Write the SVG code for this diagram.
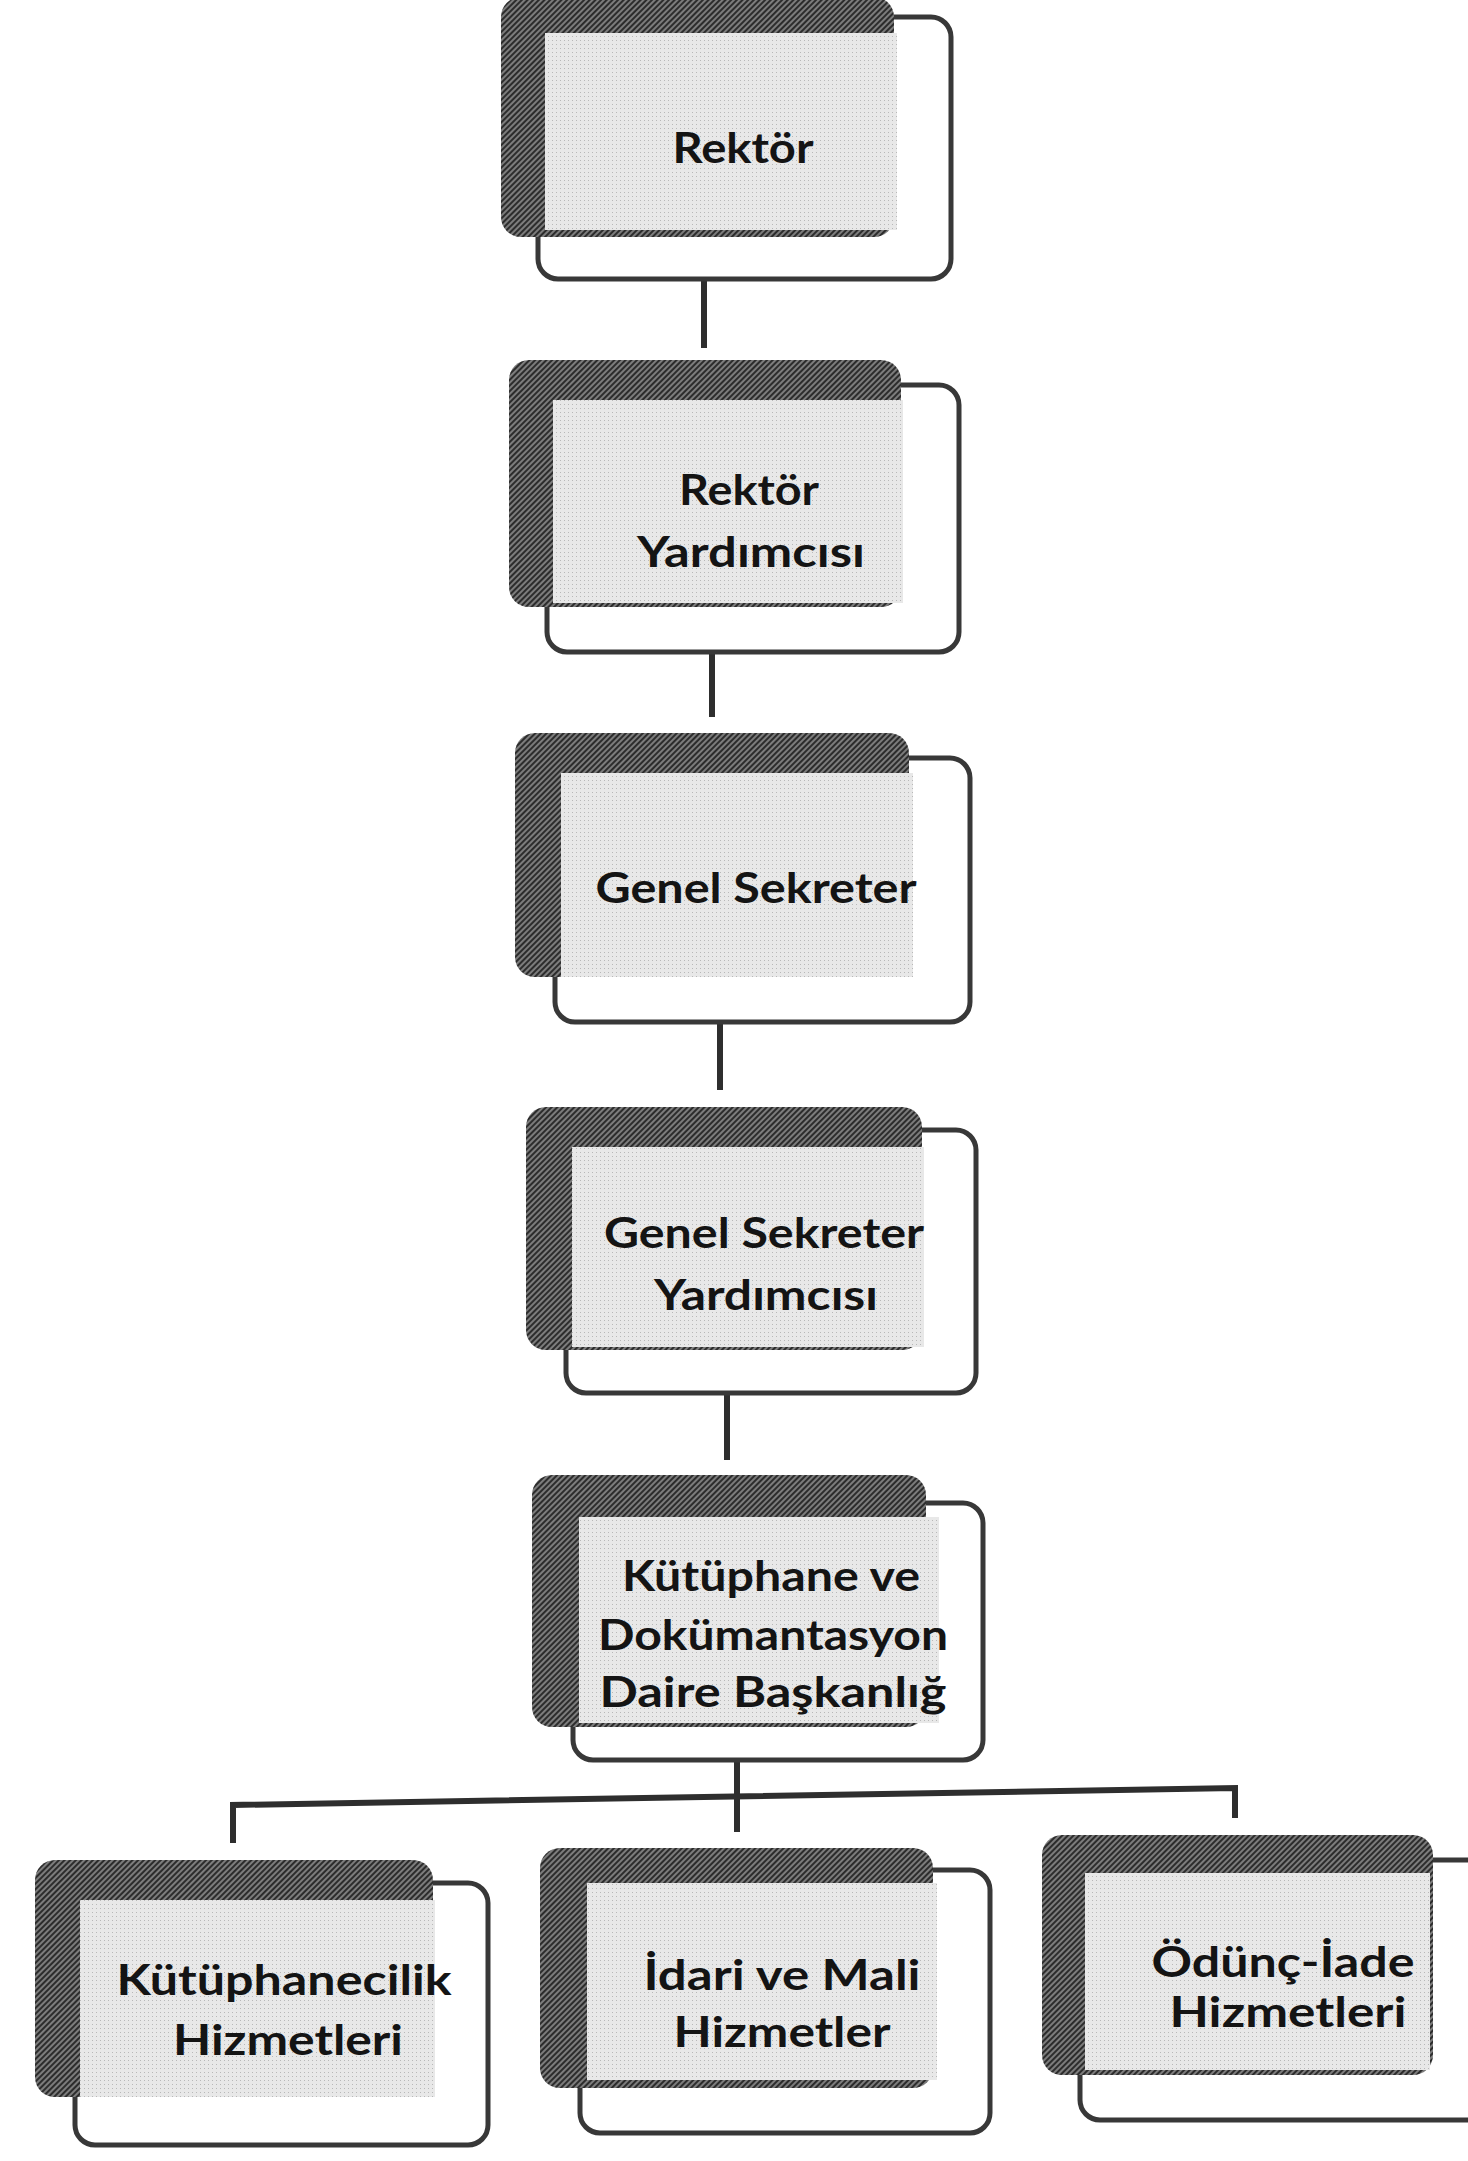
<svg xmlns="http://www.w3.org/2000/svg" width="1468" height="2161" viewBox="0 0 1468 2161">
<defs>
<pattern id="hatch" width="4" height="4" patternUnits="userSpaceOnUse" patternTransform="rotate(45)">
<rect width="4" height="4" fill="#7c7c7c"/><rect width="2" height="4" fill="#2c2c2c"/>
</pattern>
<pattern id="dots" width="4" height="4" patternUnits="userSpaceOnUse">
<rect width="4" height="4" fill="#e8e8e8"/><rect width="1" height="1" fill="#b8b8b8"/>
</pattern>
</defs>
<style>
.front{fill:#fff;stroke:#383838;stroke-width:5}
.back{fill:url(#hatch)}
.inner{fill:url(#dots)}
.lbl{font-family:Lato,"Open Sans",sans-serif;font-weight:bold;font-size:42px;fill:#141414;text-anchor:middle}
.conn{stroke:#2e2e2e;stroke-width:6;fill:none}
</style>
<rect width="1468" height="2161" fill="#fff"/>
<g id="connectors">
<line class="conn" x1="704" y1="280" x2="704" y2="348"/>
<line class="conn" x1="712" y1="652" x2="712" y2="717"/>
<line class="conn" x1="720" y1="1022" x2="720" y2="1090"/>
<line class="conn" x1="727" y1="1393" x2="727" y2="1460"/>
<line class="conn" x1="737" y1="1760" x2="737" y2="1832"/>
<polyline class="conn" points="233,1843 233,1805 1235,1788 1235,1818"/>
</g>
<g id="n1">
<rect class="front" x="538" y="17" width="413" height="262" rx="20"/>
<rect class="back" x="501" y="-3" width="393" height="240" rx="20"/>
<rect class="inner" x="545" y="33" width="352" height="197"/>
<text class="lbl" x="743" y="163" textLength="141" lengthAdjust="spacingAndGlyphs">Rektör</text>
</g>
<g id="n2">
<rect class="front" x="547" y="385" width="412" height="267" rx="20"/>
<rect class="back" x="509" y="360" width="392" height="247" rx="20"/>
<rect class="inner" x="553" y="400" width="350" height="203"/>
<text class="lbl" x="749" y="505" textLength="140" lengthAdjust="spacingAndGlyphs">Rektör</text>
<text class="lbl" x="751" y="567" textLength="228" lengthAdjust="spacingAndGlyphs">Yardımcısı</text>
</g>
<g id="n3">
<rect class="front" x="555" y="758" width="415" height="264" rx="20"/>
<rect class="back" x="515" y="733" width="394" height="244" rx="20"/>
<rect class="inner" x="561" y="773" width="352" height="204"/>
<text class="lbl" x="756" y="903" textLength="321" lengthAdjust="spacingAndGlyphs">Genel Sekreter</text>
</g>
<g id="n4">
<rect class="front" x="566" y="1130" width="410" height="263" rx="20"/>
<rect class="back" x="526" y="1107" width="396" height="243" rx="20"/>
<rect class="inner" x="572" y="1147" width="352" height="200"/>
<text class="lbl" x="764" y="1248" textLength="320" lengthAdjust="spacingAndGlyphs">Genel Sekreter</text>
<text class="lbl" x="766" y="1310" textLength="224" lengthAdjust="spacingAndGlyphs">Yardımcısı</text>
</g>
<g id="n5">
<rect class="front" x="573" y="1503" width="410" height="257" rx="20"/>
<rect class="back" x="532" y="1475" width="394" height="252" rx="20"/>
<rect class="inner" x="579" y="1517" width="360" height="206"/>
<text class="lbl" x="771" y="1591" textLength="298" lengthAdjust="spacingAndGlyphs">Kütüphane ve</text>
<text class="lbl" x="773" y="1650" textLength="350" lengthAdjust="spacingAndGlyphs">Dokümantasyon</text>
<text class="lbl" x="773" y="1707" textLength="347" lengthAdjust="spacingAndGlyphs">Daire Başkanlığ</text>
</g>
<g id="b1">
<rect class="front" x="75" y="1883" width="413" height="262" rx="20"/>
<rect class="back" x="35" y="1860" width="398" height="237" rx="20"/>
<rect class="inner" x="80" y="1900" width="355" height="197"/>
<text class="lbl" x="284" y="1995" textLength="335" lengthAdjust="spacingAndGlyphs">Kütüphanecilik</text>
<text class="lbl" x="288" y="2055" textLength="230" lengthAdjust="spacingAndGlyphs">Hizmetleri</text>
</g>
<g id="b2">
<rect class="front" x="580" y="1870" width="410" height="263" rx="20"/>
<rect class="back" x="540" y="1848" width="393" height="240" rx="20"/>
<rect class="inner" x="587" y="1883" width="350" height="197"/>
<text class="lbl" x="782" y="1990" textLength="277" lengthAdjust="spacingAndGlyphs">İdari ve Mali</text>
<text class="lbl" x="782" y="2047" textLength="217" lengthAdjust="spacingAndGlyphs">Hizmetler</text>
</g>
<g id="b3">
<rect class="front" x="1080" y="1860" width="410" height="260" rx="20"/>
<rect class="back" x="1042" y="1835" width="391" height="240" rx="20"/>
<rect class="inner" x="1085" y="1873" width="345" height="197"/>
<text class="lbl" x="1283" y="1977" textLength="263" lengthAdjust="spacingAndGlyphs">Ödünç-İade</text>
<text class="lbl" x="1288" y="2027" textLength="237" lengthAdjust="spacingAndGlyphs">Hizmetleri</text>
</g>
</svg>
